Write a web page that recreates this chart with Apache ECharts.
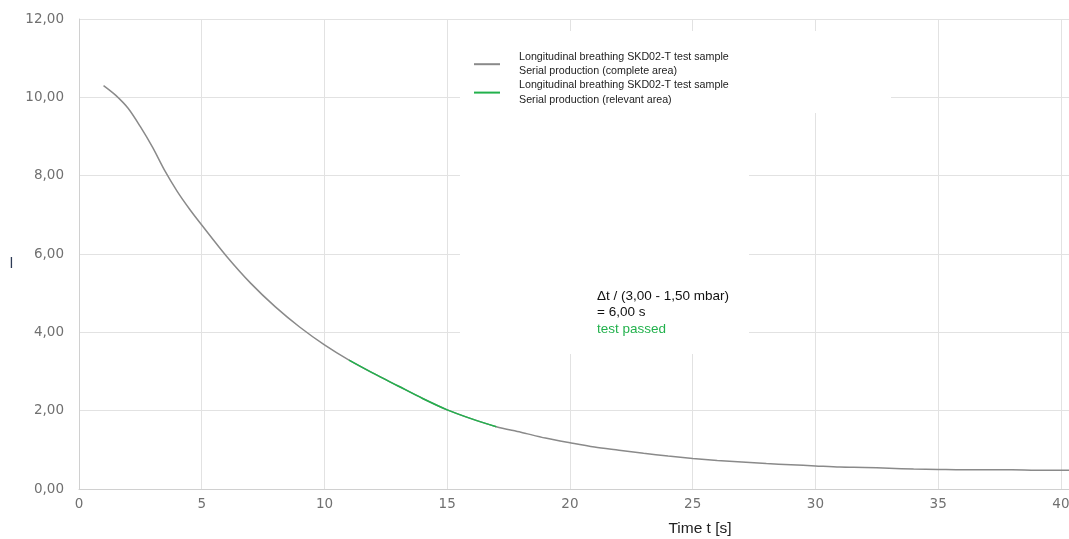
<!DOCTYPE html>
<html>
<head>
<meta charset="utf-8">
<script src="https://cdn.jsdelivr.net/npm/echarts@6/dist/echarts.min.js"></script>
<style>html,body{margin:0;padding:0;background:#fff;overflow:hidden;}#c{width:1069px;height:539px;}</style>
</head>
<body>
<div id="c"></div>
<script>
// Time [s]
var times = [1, 1.5, 2, 2.5, 3, 3.5, 4, 4.5, 5, 6, 7, 8, 9, 10, 11, 12, 13, 14, 15, 16, 17, 18, 19, 20,
             21, 22, 23, 24, 25, 26, 27, 28, 29, 30, 31, 32, 33, 34, 35, 36, 37, 38, 39, 40, 41];
// Complete area values
var completeValues = [10.30, 10.05, 9.72, 9.25, 8.72, 8.12, 7.60, 7.15, 6.74, 5.95, 5.25, 4.65, 4.13, 3.68, 3.29, 2.95, 2.63, 2.31, 2.02, 1.79, 1.59, 1.45, 1.30, 1.18,
                      1.07, 0.99, 0.91, 0.84, 0.78, 0.73, 0.69, 0.65, 0.62, 0.59, 0.56, 0.55, 0.53, 0.51, 0.50, 0.49, 0.49, 0.49, 0.48, 0.48, 0.48];
// Relevant area range (times)
var relevantStart = 11;
var relevantEnd = 17;
var seriesNames = [
  'Longitudinal breathing SKD02-T test sample\nSerial production (complete area)',
  'Longitudinal breathing SKD02-T test sample\nSerial production (relevant area)'
];
var xTicks = [0, 5, 10, 15, 20, 25, 30, 35, 40];
var yTicks = [0, 2, 4, 6, 8, 10, 12];
var annotationLines = ['\u0394t / (3,00 - 1,50 mbar)', '= 6,00 s', 'test passed'];

var completeData = times.map(function (t, i) { return [t, completeValues[i]]; });
var relevantData = completeData.filter(function (p) { return p[0] >= relevantStart && p[0] <= relevantEnd; });

var chart = echarts.init(document.getElementById('c'), null, { renderer: 'canvas' });
var gray = '#8a8a8a';
var green = '#22b14c';
var tickFont = { fontFamily: 'DejaVu Sans', fontSize: 13.5, color: '#707070' };

chart.setOption({
  backgroundColor: '#fff',
  animation: false,
  grid: { left: 79, right: 0, top: 19, bottom: 50, containLabel: false, outerBoundsMode: 'none' },
  xAxis: {
    type: 'value',
    min: xTicks[0],
    max: 40.33,
    interval: 5,
    name: 'Time t [s]',
    nameLocation: 'middle',
    nameGap: 32,
    nameTextStyle: { fontFamily: 'Liberation Sans', fontSize: 15.5, color: '#222', padding: [0, 0, 0, 252] },
    axisLine: { show: true, lineStyle: { color: '#d0d0d0', width: 1 } },
    axisTick: { show: false },
    axisLabel: Object.assign({ margin: 8, showMaxLabel: false }, tickFont),
    splitLine: { show: true, showMaxLine: false, lineStyle: { color: '#e2e2e2', width: 1 } }
  },
  yAxis: {
    type: 'value',
    min: yTicks[0],
    max: yTicks[yTicks.length - 1],
    interval: 2,
    name: 'l',
    nameLocation: 'middle',
    nameRotate: 0,
    nameGap: 66,
    nameTextStyle: { fontFamily: 'Liberation Sans', fontSize: 15, color: '#2d3a55', verticalAlign: 'top', lineHeight: 20 },
    axisLine: { show: true, lineStyle: { color: '#d0d0d0', width: 1 } },
    axisTick: { show: false },
    axisLabel: Object.assign({ margin: 15, formatter: function (v) { return v.toFixed(2).replace('.', ','); } }, tickFont),
    splitLine: { show: true, lineStyle: { color: '#e2e2e2', width: 1 } }
  },
  legend: {
    orient: 'vertical',
    left: 474,
    top: 50,
    padding: 0,
    itemWidth: 26,
    itemHeight: 2,
    itemGap: 0,
    icon: 'rect',
    selectedMode: false,
    textStyle: { fontFamily: 'Liberation Sans', fontSize: 10.7, color: '#222', lineHeight: 14.2, padding: [0, 0, 0, 14] },
    data: seriesNames
  },
  title: {
    left: 597,
    top: 288,
    padding: 0,
    text: annotationLines[0] + '\n' + annotationLines[1] + '\n{g|' + annotationLines[2] + '}',
    textStyle: {
      fontFamily: 'Liberation Sans', fontSize: 13.5, fontWeight: 'normal', color: '#111', lineHeight: 16.5,
      rich: { g: { color: green, fontFamily: 'Liberation Sans', fontSize: 13.5, lineHeight: 16.5 } }
    }
  },
  graphic: [
    { type: 'rect', z: 1, silent: true, shape: { x: 460, y: 31, width: 431, height: 82 }, style: { fill: '#fff' } },
    { type: 'rect', z: 1, silent: true, shape: { x: 460, y: 31, width: 289, height: 323 }, style: { fill: '#fff' } }
  ],
  series: [
    {
      name: seriesNames[0],
      type: 'line',
      data: completeData,
      symbol: 'none',
      smooth: 0.3,
      z: 3,
      color: gray,
      lineStyle: { color: gray, width: 1.5 }
    },
    {
      name: seriesNames[1],
      type: 'line',
      data: relevantData,
      symbol: 'none',
      smooth: 0.3,
      z: 4,
      color: green,
      lineStyle: { color: green, width: 1.5 }
    }
  ]
});
</script>
</body>
</html>
